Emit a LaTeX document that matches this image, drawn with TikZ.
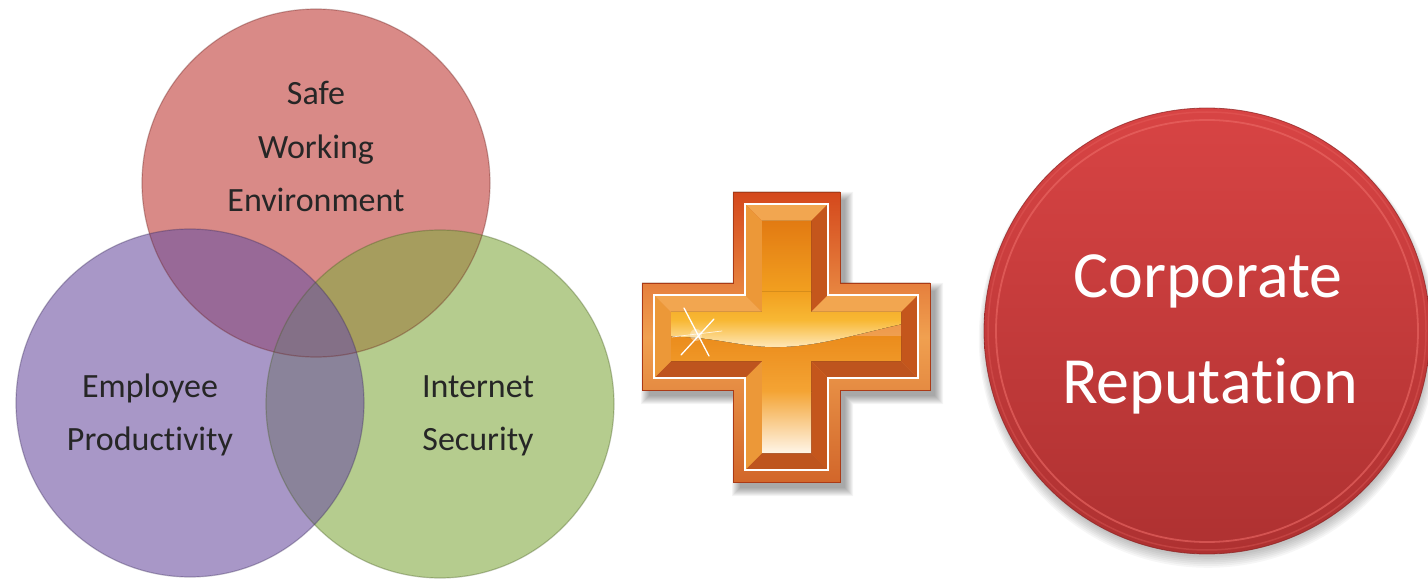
\documentclass[tikz,border=0pt]{standalone}
\usepackage{fontspec}
\setmainfont{Carlito}[RawFeature={-liga}]

% Venn colours (drawn semi-transparent)
\definecolor{vennred}{RGB}{192,60,55}
\definecolor{venngreen}{RGB}{132,170,67}
\definecolor{vennpurple}{RGB}{110,83,163}
\definecolor{venntext}{HTML}{262626}
% plus sign colours
\definecolor{frameTop}{HTML}{D4481C}
\definecolor{frameMid}{HTML}{F0A050}
\definecolor{frameBot}{HTML}{D2662A}
\definecolor{bevTop}{HTML}{F2A650}
\definecolor{bevLeft}{HTML}{EC9838}
\definecolor{bevRight}{HTML}{C4561C}
\definecolor{bevBot}{HTML}{BE541E}
\definecolor{faceA}{HTML}{E27A12}
\definecolor{faceB}{HTML}{F2A020}
\definecolor{faceC}{HTML}{F8B834}
\definecolor{faceD}{HTML}{EB8C1C}
\definecolor{faceE}{HTML}{F4A434}
\definecolor{faceW}{HTML}{FFF9F0}
\definecolor{waveLow}{HTML}{FFE9BC}
% big red disc
\definecolor{discTop}{HTML}{D84444}
\definecolor{discBot}{HTML}{AE3131}
\definecolor{discRim}{HTML}{EC6A66}
\definecolor{discEdge}{HTML}{8A2020}

% outline of the plus sign, shrunk inwards by #1
\newcommand{\crosspath}[1]{%
  ({733+#1},{192+#1}) -- ({840-#1},{192+#1}) -- ({840-#1},{283+#1}) --
  ({930-#1},{283+#1}) -- ({930-#1},{390-#1}) -- ({840-#1},{390-#1}) --
  ({840-#1},{482-#1}) -- ({733+#1},{482-#1}) -- ({733+#1},{390-#1}) --
  ({642+#1},{390-#1}) -- ({642+#1},{283+#1}) -- ({733+#1},{283+#1}) -- cycle}

% one bevel face between the rings at insets 12 and 29
\newcommand{\bevface}[9]{%
  \fill[#9] ({#1+#3*12},{#2+#4*12}) -- ({#5+#7*12},{#6+#8*12}) --
            ({#5+#7*29},{#6+#8*29}) -- ({#1+#3*29},{#2+#4*29}) -- cycle;}

\begin{document}
\begin{tikzpicture}[x=1pt,y=-1pt,
    vtext/.style={text=venntext, font=\fontsize{34}{40}\selectfont, inner sep=0pt, anchor=base},
    ctext/.style={text=white, font=\fontsize{66}{78}\selectfont, inner sep=0pt, anchor=base},
    vennedge/.style={line width=1.2pt, draw opacity=0.35}]

\useasboundingbox (0,0) rectangle (1428,580);
\fill[white] (0,0) rectangle (1428,580);

% ---------- three-circle Venn diagram ----------
\fill[vennred, fill opacity=0.6] (316,183) circle (174pt);
\fill[venngreen, fill opacity=0.6] (440,404) circle (174pt);
\fill[vennpurple, fill opacity=0.6] (190,403) circle (174pt);
\draw[vennedge, draw=vennred!55!black] (316,183) circle (174pt);
\draw[vennedge, draw=venngreen!55!black] (440,404) circle (174pt);
\draw[vennedge, draw=vennpurple!55!black] (190,403) circle (174pt);

\node[vtext] (safe1) at (316,105) {Safe};
\node[vtext] (safe2) at (316,159) {Working};
\node[vtext] (safe3) at (316,212) {Environment};
\node[vtext] (emp1) at (150,397) {Employee};
\node[vtext] (emp2) at (150,450) {Productivity};
\node[vtext] (net1) at (478,397) {Internet};
\node[vtext] (net2) at (478,450) {Security};

% ---------- plus sign ----------
% soft drop shadow
\foreach \s in {-1,0,...,7}
  \fill[black, opacity=0.045, xshift=6pt, yshift=-7pt] \crosspath{(-\s)};
% outer frame
\fill[top color=frameTop, bottom color=frameBot, middle color=frameMid] \crosspath{0};
\draw[frameTop!80!black, line width=0.8pt] \crosspath{0};
% bevel faces
\bevface{733}{192}{1}{1}{840}{192}{-1}{1}{bevTop}
\bevface{840}{192}{-1}{1}{840}{283}{-1}{1}{bevRight}
\bevface{840}{283}{-1}{1}{930}{283}{-1}{1}{bevTop}
\bevface{930}{283}{-1}{1}{930}{390}{-1}{-1}{bevRight}
\bevface{930}{390}{-1}{-1}{840}{390}{-1}{-1}{bevBot}
\bevface{840}{390}{-1}{-1}{840}{482}{-1}{-1}{bevRight}
\bevface{840}{482}{-1}{-1}{733}{482}{1}{-1}{bevBot}
\bevface{733}{482}{1}{-1}{733}{390}{1}{-1}{bevLeft}
\bevface{733}{390}{1}{-1}{642}{390}{1}{-1}{bevBot}
\bevface{642}{390}{1}{-1}{642}{283}{1}{1}{bevLeft}
\bevface{642}{283}{1}{1}{733}{283}{1}{1}{bevTop}
\bevface{733}{283}{1}{1}{733}{192}{1}{1}{bevLeft}
% white inner outline
\draw[white, line width=2.4pt, line join=miter] \crosspath{12};
% glossy face
\begin{scope}
  \clip \crosspath{29};
  \fill[top color=faceA, bottom color=faceB] (640,220) rectangle (935,293);
  \fill[top color=faceD, bottom color=faceE] (640,336) rectangle (935,392);
  \fill[top color=faceE, bottom color=faceW] (640,391) rectangle (935,456);
  % light band above the wave
  \fill[top color=faceB, bottom color=waveLow, middle color=faceC]
    (640,292) -- (935,292) -- (935,318)
    .. controls (880,326) and (830,346) .. (780,347)
    .. controls (735,348) and (712,333) .. (640,337) -- cycle;
\end{scope}
% sparkle
\fill[white, opacity=0.35] (696,335) circle (6pt);
\draw[white, line width=1.3pt, line cap=round] (684,308) -- (709,356);
\draw[white, line width=1.3pt, line cap=round] (681,355) -- (714,319);
\draw[white, line width=0.7pt, line cap=round, opacity=0.8] (672,337) -- (722,331);

% ---------- big red disc ----------
\foreach \s in {0,1,...,6}
  \fill[black, opacity=0.035] (1208,{335+\s*0.6}) circle ({(222+\s*1.2)*1pt});
\shade[top color=discTop, bottom color=discBot] (1207,331) circle (223pt);
\draw[discRim, line width=1.8pt, opacity=0.6] (1207,331) circle (211pt);
\draw[discRim, line width=1.5pt, opacity=0.3] (1207,331) circle (219pt);
\draw[discEdge, line width=0.8pt, opacity=0.7] (1207,331) circle (223pt);

\node[ctext] (corp) at (1208,298) {Corporate};
\node[ctext] (repu) at (1210,403) {Reputation};

\end{tikzpicture}
\end{document}
